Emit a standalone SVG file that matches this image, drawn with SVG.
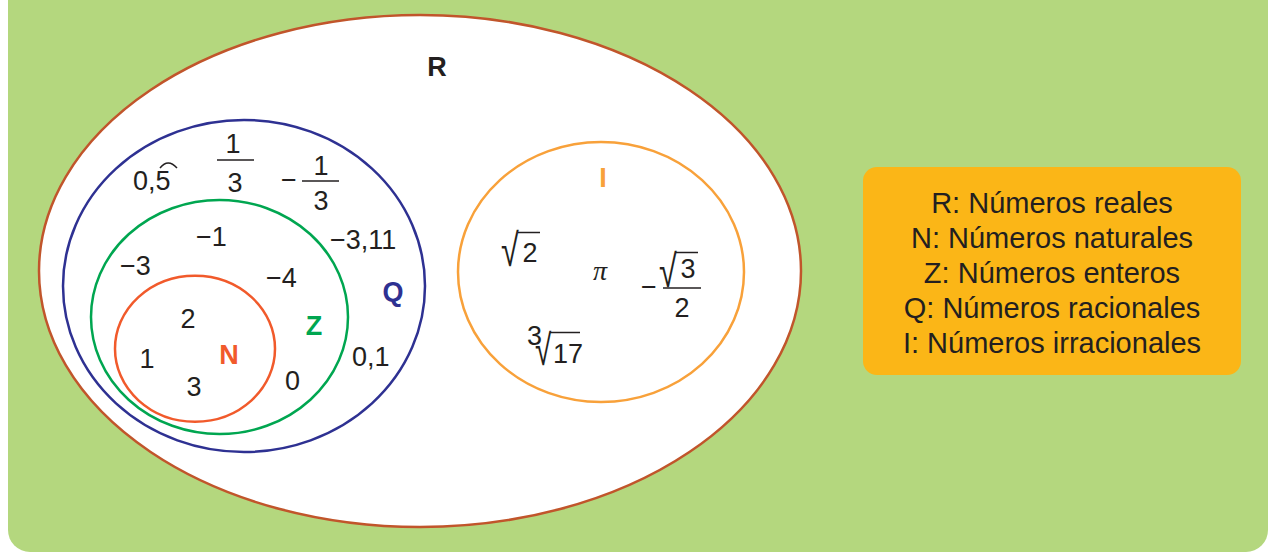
<svg xmlns="http://www.w3.org/2000/svg" width="1271" height="556" viewBox="0 0 1271 556">
<style>
.n{font-family:"Liberation Sans",Arial,sans-serif;font-size:27px;fill:#231f20}
.lab{font-family:"Liberation Sans",Arial,sans-serif;font-weight:bold;font-size:27px}
.leg{font-family:"Liberation Sans",Arial,sans-serif;font-size:29px;fill:#231f20;text-anchor:middle}
.bar{stroke:#231f20;stroke-width:1.5;fill:none}
.set{fill:none;stroke-width:2.5}
</style>
<rect x="0" y="0" width="1271" height="556" fill="#ffffff"/>
<rect x="8" y="-30" width="1260" height="582" rx="22" fill="#b4d77e"/>
<g id="R">
<ellipse cx="420" cy="271" rx="381" ry="256" fill="#ffffff" stroke="#c1552b" stroke-width="2.5"/>
<text x="437" y="76" class="lab" font-size="20" fill="#231f20" text-anchor="middle">R</text>
</g>
<g id="Q">
<ellipse cx="244" cy="286" rx="181" ry="166" class="set" stroke="#2e3192"/>
<text x="393" y="301" class="lab" fill="#2e3192" text-anchor="middle">Q</text>
<text x="133" y="190" class="n">0,5</text>
<path d="M160 168 Q168 158 177 168" class="bar"/>
<text x="233" y="153" class="n" text-anchor="middle">1</text>
<line x1="217" y1="160" x2="254" y2="160" class="bar"/>
<text x="235" y="192" class="n" text-anchor="middle">3</text>
<text x="281" y="189" class="n">−</text>
<line x1="302" y1="181" x2="339" y2="181" class="bar"/>
<text x="321" y="175" class="n" text-anchor="middle">1</text>
<text x="321" y="210" class="n" text-anchor="middle">3</text>
<text x="330" y="249" class="n">−3,11</text>
<text x="352" y="366" class="n">0,1</text>
</g>
<g id="Z">
<ellipse cx="219.5" cy="317" rx="128.5" ry="117" class="set" stroke="#00a650"/>
<text x="314" y="335" class="lab" fill="#00a650" text-anchor="middle">Z</text>
<text x="196" y="246" class="n">−1</text>
<text x="120" y="275" class="n">−3</text>
<text x="266" y="287" class="n">−4</text>
<text x="285" y="390" class="n">0</text>
</g>
<g id="N">
<ellipse cx="195" cy="348.7" rx="80" ry="73" class="set" stroke="#f15a2b"/>
<text x="229" y="364" class="lab" fill="#f15a2b" text-anchor="middle">N</text>
<text x="188" y="328" class="n" text-anchor="middle">2</text>
<text x="147" y="368" class="n" text-anchor="middle">1</text>
<text x="194" y="396" class="n" text-anchor="middle">3</text>
</g>
<g id="I">
<ellipse cx="601" cy="272" rx="143" ry="130" class="set" stroke="#f8a13a"/>
<text x="603" y="187" class="lab" fill="#f8a13a" text-anchor="middle">I</text>
<text class="n" transform="translate(501,266) scale(1.2,1.7)">√</text>
<line x1="518" y1="232.5" x2="540" y2="232.5" class="bar"/>
<text x="530" y="262" class="n" text-anchor="middle">2</text>
<text x="600" y="280" font-family="Liberation Serif,serif" font-style="italic" font-size="28" fill="#231f20" text-anchor="middle">π</text>
<text x="641" y="296" class="n">−</text>
<text class="n" transform="translate(659,287) scale(1.2,1.7)">√</text>
<line x1="676" y1="252.5" x2="698" y2="252.5" class="bar"/>
<text x="688" y="278" class="n" text-anchor="middle">3</text>
<line x1="663" y1="288" x2="701" y2="288" class="bar"/>
<text x="682" y="317" class="n" text-anchor="middle">2</text>
<text x="527" y="345" class="n" font-size="12">3</text>
<text class="n" transform="translate(535,365) scale(1.1,1.6)">√</text>
<line x1="550" y1="332.5" x2="580" y2="332.5" class="bar"/>
<text x="553" y="363" class="n">17</text>
</g>
<g id="legend">
<rect x="863" y="167" width="378" height="208" rx="14" fill="#fbb617"/>
<text x="1052" y="213" class="leg">R: Números reales</text>
<text x="1052" y="248" class="leg">N: Números naturales</text>
<text x="1052" y="283" class="leg">Z: Números enteros</text>
<text x="1052" y="318" class="leg">Q: Números racionales</text>
<text x="1052" y="353" class="leg">I: Números irracionales</text>
</g>
<g id="connectors"/>
</svg>
